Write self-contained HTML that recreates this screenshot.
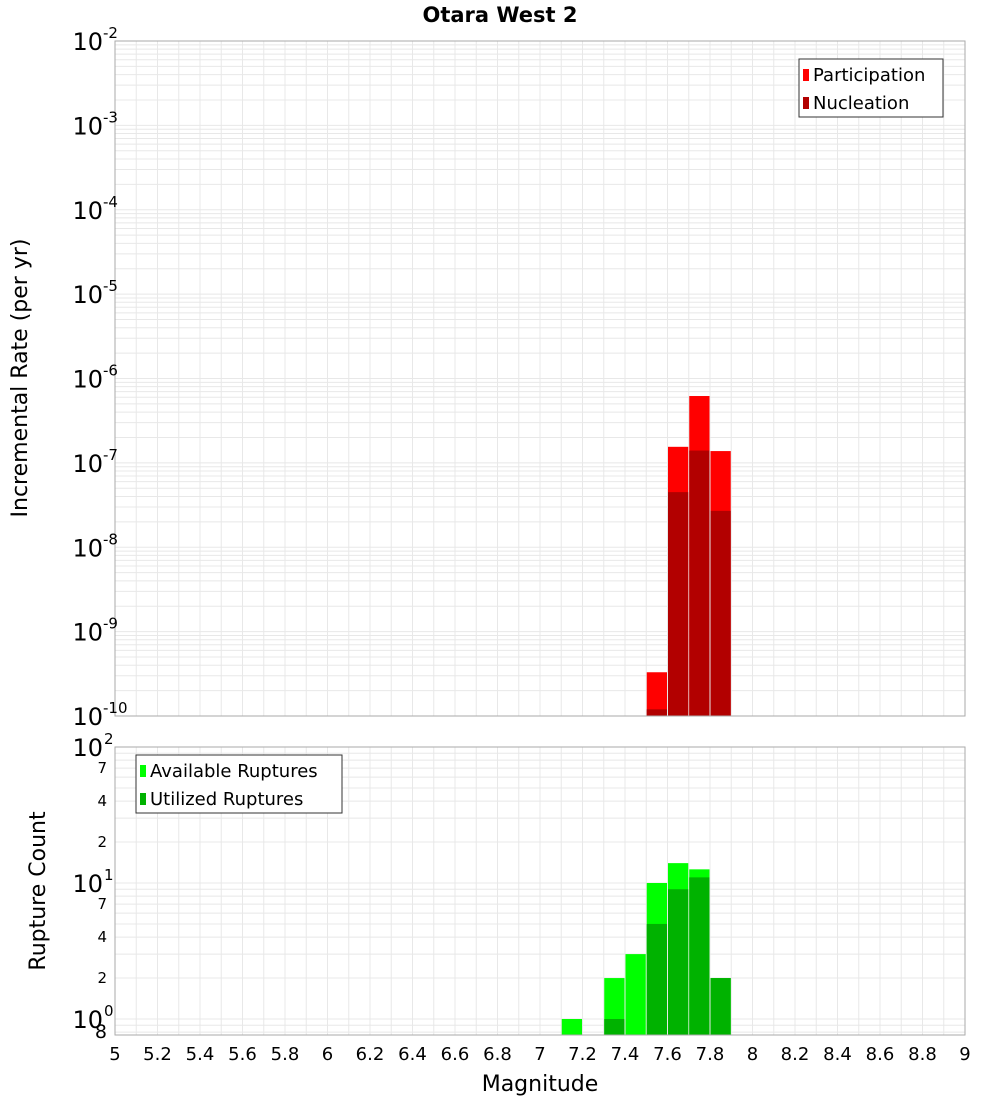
<!DOCTYPE html>
<html><head><meta charset="utf-8"><style>
body{margin:0;background:#fff;font-family:"Liberation Sans","DejaVu Sans",sans-serif}
</style></head><body>
<svg id="c" width="1000" height="1100" xmlns="http://www.w3.org/2000/svg" font-family="DejaVu Sans, Liberation Sans, sans-serif"></svg>
<script>
const binStarts=[7.1,7.3,7.4,7.5,7.6,7.7,7.8];
const partMags=[7.5,7.6,7.7,7.8];
const participation=[3.3e-10,1.55e-7,6.2e-7,1.38e-7];
const nucleation=[1.2e-10,4.5e-8,1.4e-7,2.7e-8];
const availRuptures=[1,2,3,10,14,12.6,2];
const utilRuptures=[0,1,0,5,9,11,2];
const xTicks=[5,5.2,5.4,5.6,5.8,6,6.2,6.4,6.6,6.8,7,7.2,7.4,7.6,7.8,8,8.2,8.4,8.6,8.8,9];
const topExp=[-2,-3,-4,-5,-6,-7,-8,-9,-10];
const botMinor=[[2,"2"],[4,"4"],[7,"7"],[20,"2"],[40,"4"],[70,"7"]];

const svg=document.getElementById('c');const NS='http://www.w3.org/2000/svg';
function el(t,a,p){const e=document.createElementNS(NS,t);for(const k in a)e.setAttribute(k,a[k]);(p||svg).appendChild(e);return e;}
const X0=115,X1=965;
const x=m=>X0+(m-5)/4*(X1-X0);
const T0=41,T1=716;
const yT=v=>T0+(-2-Math.log10(v))*(T1-T0)/8;
const B0=747,BPD=136;
const yB=v=>B0+(2-Math.log10(v))*BPD;
const B1=1035;

function frame(y0,y1,name){
  el('rect',{x:X0,y:y0,width:X1-X0,height:y1-y0,fill:'#fff',stroke:'none'});
}
frame(T0,T1,'top-plot');frame(B0,B1,'bottom-plot');
// grid
const g=el('g',{stroke:'#e8e8e8','stroke-width':1});
for(let m=5;m<=9.001;m+=0.1){const px=x(m);el('line',{x1:px,x2:px,y1:T0,y2:T1},g);el('line',{x1:px,x2:px,y1:B0,y2:B1},g);}
for(let e=-10;e<-2;e++)for(let k=1;k<10;k++){const py=yT(k*Math.pow(10,e));el('line',{x1:X0,x2:X1,y1:py,y2:py},g);}
for(let e=-1;e<2;e++)for(let k=1;k<10;k++){const py=yB(k*Math.pow(10,e));if(py>=B0&&py<=B1)el('line',{x1:X0,x2:X1,y1:py,y2:py},g);}
// top bars
const bw=x(5.1)-x(5)-1;
partMags.forEach((m,i)=>{
  let r=el('rect',{x:x(m)+0.5,y:yT(participation[i]),width:bw,height:T1-yT(participation[i]),fill:'#ff0000'});
  
  r=el('rect',{x:x(m)+0.5,y:yT(nucleation[i]),width:bw,height:T1-yT(nucleation[i]),fill:'#b20000'});
  
});
binStarts.forEach((m,i)=>{
  let r=el('rect',{x:x(m)+0.5,y:yB(availRuptures[i]),width:bw,height:B1-yB(availRuptures[i]),fill:'#00ff00'});
  
  if(utilRuptures[i]>0){r=el('rect',{x:x(m)+0.5,y:yB(utilRuptures[i]),width:bw,height:B1-yB(utilRuptures[i]),fill:'#00b200'});
  }
});
el('rect',{x:X0,y:T0,width:X1-X0,height:T1-T0,fill:'none',stroke:'#aaa'});
el('rect',{x:X0,y:B0,width:X1-X0,height:B1-B0,fill:'none',stroke:'#aaa'});
// title
let t=el('text',{x:500,y:22,'text-anchor':'middle','font-size':21,'font-weight':'bold'});t.textContent='Otara West 2';
// top y ticks
topExp.forEach(e=>{const py=yT(Math.pow(10,e));
  const tx=el('text',{x:103,y:py+9,'text-anchor':'end','font-size':24});tx.textContent='10';
  const sp=el('text',{x:103,y:py-3,'font-size':15});sp.textContent=String(e);
});
// bottom y ticks
[[100,'2'],[10,'1'],[1,'0']].forEach(([v,e])=>{const py=yB(v);
  const tx=el('text',{x:103,y:py+9,'text-anchor':'end','font-size':24});tx.textContent='10';
  const sp=el('text',{x:104,y:py-3,'font-size':15});sp.textContent=e;
});
botMinor.forEach(([v,l])=>{const tx=el('text',{x:107,y:yB(v)+5,'text-anchor':'end','font-size':15});tx.textContent=l;});
t=el('text',{x:107,y:yB(0.8)+6,'text-anchor':'end','font-size':19});t.textContent='8';
// x ticks
xTicks.forEach(v=>{const tx=el('text',{x:x(v),y:1060,'text-anchor':'middle','font-size':18});tx.textContent=String(v);});
t=el('text',{x:540,y:1091,'text-anchor':'middle','font-size':22});t.textContent='Magnitude';
t=el('text',{x:0,y:0,'text-anchor':'middle','font-size':22,transform:'translate(27,378) rotate(-90)'});t.textContent='Incremental Rate (per yr)';
t=el('text',{x:0,y:0,'text-anchor':'middle','font-size':22,transform:'translate(45,891) rotate(-90)'});t.textContent='Rupture Count';
// legends
function legend(x0,y0,w,items,name){const lg=el('g',{});
  el('rect',{x:x0,y:y0,width:w,height:58,fill:'#fff',stroke:'#333'},lg);
  items.forEach((it,i)=>{el('rect',{x:x0+4,y:y0+10+i*28,width:6,height:12,fill:it[1]},lg);
    const tx=el('text',{x:x0+14,y:y0+22+i*28,'font-size':18},lg);tx.textContent=it[0];});}
legend(799,59,144,[['Participation','#ff0000'],['Nucleation','#b20000']],'top-legend');
legend(136,755,206,[['Available Ruptures','#00ff00'],['Utilized Ruptures','#00b200']],'bottom-legend');
</script>
</body></html>
